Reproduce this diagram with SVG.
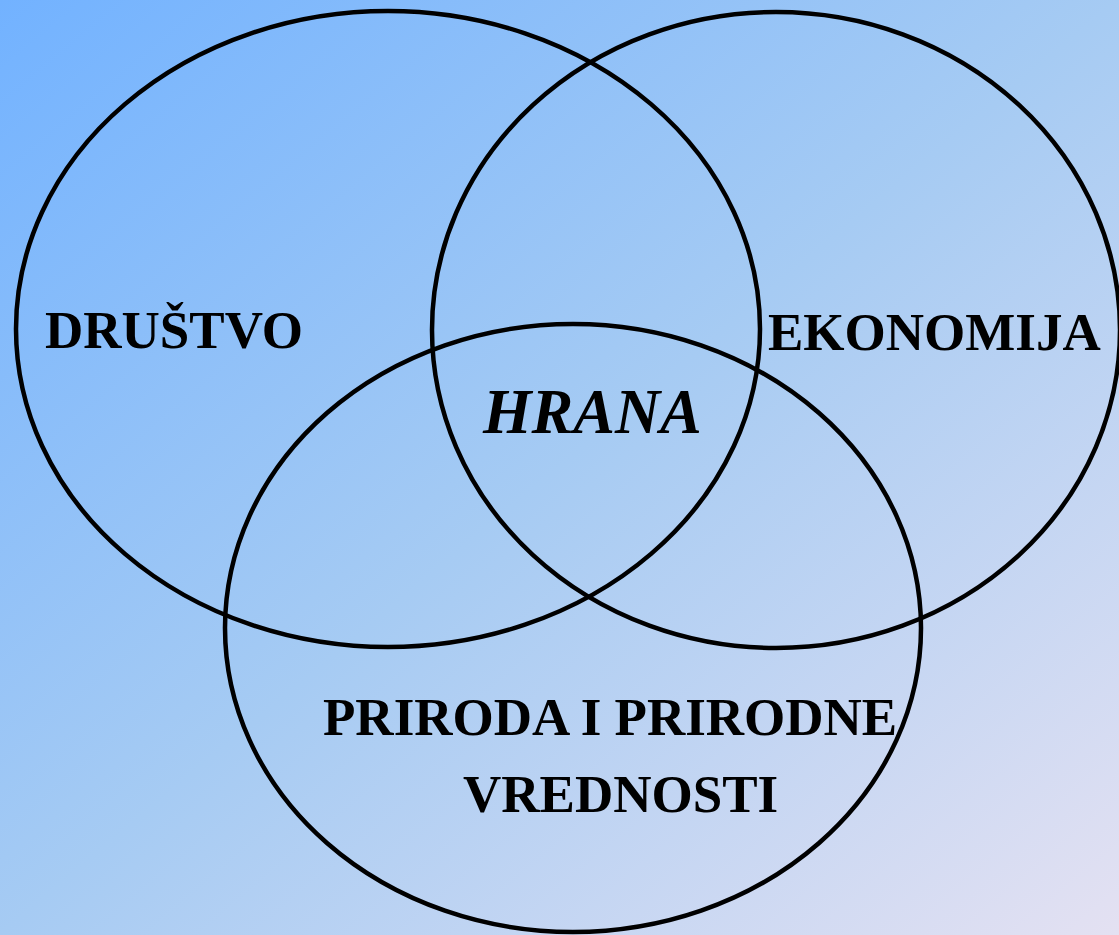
<svg xmlns="http://www.w3.org/2000/svg" width="1119" height="935" viewBox="0 0 1119 935">
<defs>
<linearGradient id="bg" x1="0" y1="0" x2="1" y2="1">
<stop offset="0" stop-color="#72b2ff"/>
<stop offset="0.5" stop-color="#a6cbf3"/>
<stop offset="1" stop-color="#e4e1f2"/>
</linearGradient>
</defs>
<style>
.c{fill:none;stroke:#000;stroke-width:4.5}
.t{font-family:"Liberation Serif","Times New Roman",serif;font-weight:bold;font-size:53px;fill:#000}
.h{font-style:italic;font-size:62.5px}
</style>
<rect x="0" y="0" width="1119" height="935" fill="url(#bg)"/>
<g id="drustvo">
<ellipse class="c" cx="388" cy="329" rx="372" ry="318"/>
<text class="t" x="45" y="348">DRUŠTVO</text>
</g>
<g id="ekonomija">
<ellipse class="c" cx="776" cy="330" rx="344" ry="318"/>
<text class="t" x="768" y="350">EKONOMIJA</text>
</g>
<g id="priroda">
<ellipse class="c" cx="573" cy="628" rx="348" ry="304"/>
<text class="t" x="323" y="735">PRIRODA I PRIRODNE</text>
<text class="t" x="463" y="812">VREDNOSTI</text>
</g>
<g id="hrana">
<text class="t h" x="483" y="433">HRANA</text>
</g>
<g id="connectors"/>
</svg>
